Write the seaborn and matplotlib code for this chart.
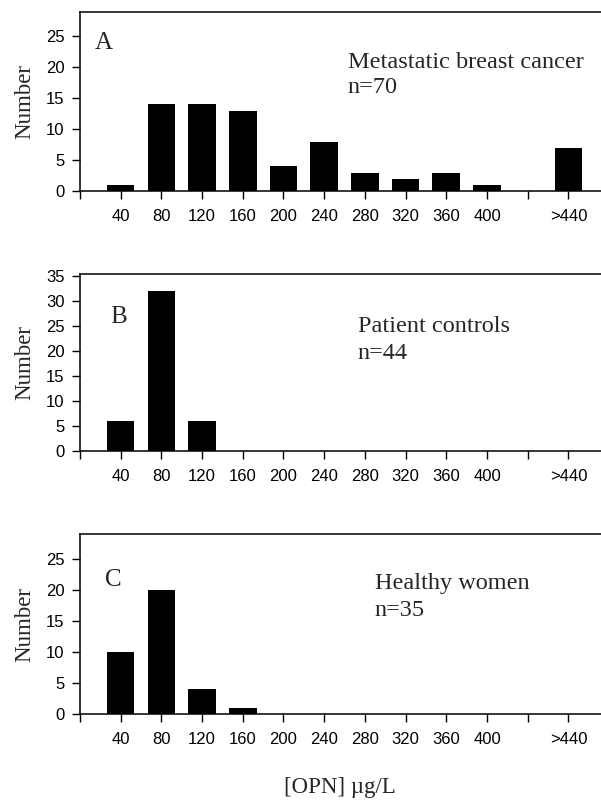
import numpy as np
import pandas as pd
import matplotlib
matplotlib.use('Agg')
import matplotlib.pyplot as plt
import seaborn as sns

# OPN concentration bins (the blank bin separates 400 from >440)
bins = ['40', '80', '120', '160', '200', '240', '280', '320', '360', '400', ' ', '>440']

# counts per bin
metastatic = [1, 14, 14, 13, 4, 8, 3, 2, 3, 1, 0, 7]
patient_controls = [6, 32, 6, 0, 0, 0, 0, 0, 0, 0, 0, 0]
healthy_women = [10, 20, 4, 1, 0, 0, 0, 0, 0, 0, 0, 0]

panel_letters = ['A', 'B', 'C']
group_names = ['Metastatic breast cancer', 'Patient controls', 'Healthy women']
group_n = ['n=70', 'n=44', 'n=35']
y_tops = [28.9, 35.3, 29.0]
y_ticks = [np.arange(0, 30, 5), np.arange(0, 40, 5), np.arange(0, 30, 5)]

sns.set_style('ticks')
plt.rcParams['font.family'] = ['Liberation Sans', 'DejaVu Sans']
serif = ['Liberation Serif', 'DejaVu Serif']

fig = plt.figure(figsize=(6.01, 8), dpi=100)

# axes rectangles in figure fractions (left, bottom, width, height)
rects = [
    (0.133, 0.761, 0.867, 0.224),
    (0.133, 0.436, 0.867, 0.221),
    (0.133, 0.1075, 0.867, 0.225),
]
# label positions in data units: letter (x, y), group text (x, y), n (y)
letter_pos = [(-0.63, 23.9), (-0.26, 26.7), (-0.39, 21.6)]
text_pos = [(5.58, 20.8), (5.82, 24.9), (6.24, 21.1)]
n_y = [16.8, 19.5, 16.6]

for i, counts in enumerate([metastatic, patient_controls, healthy_women]):
    ax = fig.add_axes(rects[i])
    df = pd.DataFrame({'bin': bins, 'count': counts})
    sns.barplot(data=df, x='bin', y='count', order=bins, color='black',
                saturation=1, width=0.68, linewidth=0, ax=ax)

    ax.set_xlim(-1, 11.8)
    ax.set_ylim(0, y_tops[i])
    ax.set_xticks(np.arange(-1, 12))
    ax.set_xticklabels([''] + bins)
    ax.set_yticks(y_ticks[i])
    ax.set_xlabel('')
    ax.set_ylabel('Number', family=serif, fontsize=16.5, labelpad=8)

    ax.tick_params(axis='both', direction='out', length=6, width=1,
                   labelsize=12, color='black', labelcolor='black')
    ax.tick_params(axis='x', pad=7)
    ax.tick_params(axis='y', pad=5)

    for side in ['top', 'left', 'bottom']:
        ax.spines[side].set_color('black')
        ax.spines[side].set_linewidth(1.1)
    ax.spines['right'].set_visible(False)

    lx, ly = letter_pos[i]
    ax.text(lx, ly, panel_letters[i], family=serif, fontsize=18,
            ha='left', va='center')
    tx, ty = text_pos[i]
    ax.text(tx, ty, group_names[i], family=serif, fontsize=17.5,
            ha='left', va='center')
    ax.text(tx, n_y[i], group_n[i], family=serif, fontsize=17.5,
            ha='left', va='center')

fig.text(0.566, 0.015, '[OPN] \u00b5g/L', family=serif, fontsize=16.5,
         ha='center', va='center')

fig.savefig('out.png', dpi=100)
